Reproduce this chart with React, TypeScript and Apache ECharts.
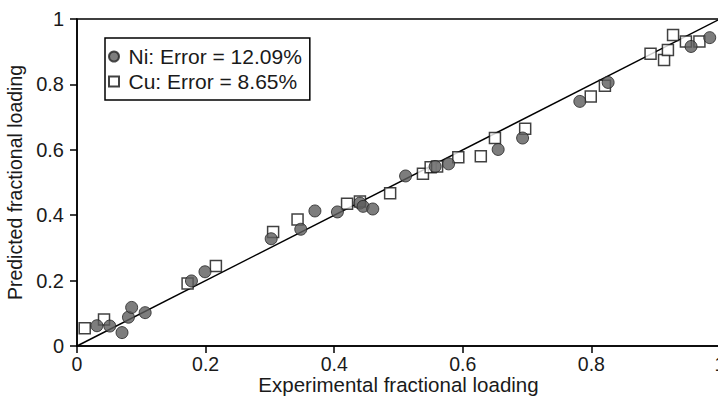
import React, { useEffect, useRef } from "react";
import * as echarts from "echarts";

const niX = [0.031, 0.051, 0.070, 0.080, 0.085, 0.106, 0.178, 0.199, 0.302, 0.348, 0.370, 0.405, 0.440, 0.445, 0.460, 0.511, 0.557, 0.578, 0.655, 0.693, 0.782, 0.826, 0.955, 0.984];
const niY = [0.062, 0.061, 0.041, 0.088, 0.118, 0.102, 0.199, 0.227, 0.328, 0.357, 0.413, 0.410, 0.437, 0.427, 0.419, 0.520, 0.549, 0.557, 0.601, 0.636, 0.748, 0.806, 0.916, 0.943];
const cuX = [0.012, 0.042, 0.172, 0.216, 0.305, 0.343, 0.420, 0.440, 0.487, 0.538, 0.550, 0.560, 0.593, 0.628, 0.650, 0.697, 0.799, 0.821, 0.892, 0.913, 0.919, 0.927, 0.947, 0.968];
const cuY = [0.054, 0.081, 0.191, 0.245, 0.349, 0.387, 0.435, 0.442, 0.467, 0.527, 0.547, 0.549, 0.577, 0.580, 0.636, 0.664, 0.763, 0.796, 0.894, 0.875, 0.905, 0.951, 0.931, 0.931];
const parityLine = [[0, 0], [1, 1]];
const niName = "Ni: Error = 12.09%";
const cuName = "Cu: Error = 8.65%";
const xTitle = "Experimental fractional loading";
const yTitle = "Predicted fractional loading";

const font = "Arial, 'Liberation Sans', Helvetica, sans-serif";

export default function App() {
  const ref = useRef<HTMLDivElement>(null);
  useEffect(() => {
    if (!ref.current) return;
    const chart = echarts.init(ref.current, null, { renderer: "svg" });
    const axisCommon = {
      type: "value",
      min: 0,
      max: 1,
      interval: 0.2,
      axisLine: { show: true, lineStyle: { color: "#000", width: 1.5 } },
      axisTick: { show: true, inside: false, length: 7, lineStyle: { color: "#000", width: 1.5 } },
      axisLabel: { fontSize: 20, color: "#1a1a1a", fontFamily: font },
      splitLine: { show: false },
      nameLocation: "middle",
      nameMoveOverlap: false,
    };
    chart.setOption({
      animation: false,
      backgroundColor: "#fff",
      grid: {
        left: 77,
        right: -2,
        top: 19,
        bottom: 50,
        outerBoundsMode: "none",
        containLabel: false,
        show: true,
        borderColor: "#000",
        borderWidth: 1.5,
      },
      xAxis: {
        ...axisCommon,
        name: xTitle,
        nameGap: 28,
        nameTextStyle: { fontSize: 20.5, color: "#1a1a1a", fontFamily: font },
        axisLabel: { ...axisCommon.axisLabel, fontSize: 19.5, margin: 8 },
      },
      yAxis: {
        ...axisCommon,
        name: yTitle,
        nameGap: 52,
        nameRotate: 90,
        nameTextStyle: { fontSize: 19.5, color: "#1a1a1a", fontFamily: font },
        axisLabel: { ...axisCommon.axisLabel, margin: 13 },
      },
      legend: {
        data: [
          { name: niName, icon: "circle" },
          { name: cuName, icon: "path://M0,0H10V10H0Z" },
        ],
        orient: "vertical",
        left: 105,
        top: 38,
        padding: [8, 8, 8, 3],
        itemGap: 4,
        itemWidth: 19,
        itemHeight: 10,
        symbolKeepAspect: true,
        borderColor: "#000",
        borderWidth: 1.5,
        backgroundColor: "#fff",
        textStyle: { fontSize: 21, color: "#1a1a1a", fontFamily: font },
      },
      series: [
        {
          type: "line",
          data: parityLine,
          symbol: "none",
          lineStyle: { color: "#000", width: 1.5 },
          z: 1,
          silent: true,
        },
        {
          name: cuName,
          type: "scatter",
          symbol: "rect",
          symbolSize: 11,
          data: cuX.map((x, i) => [x, cuY[i]]),
          itemStyle: { color: "#fff", borderColor: "#111", borderWidth: 1.5 },
          z: 2,
        },
        {
          name: niName,
          type: "scatter",
          symbol: "circle",
          symbolSize: 12,
          data: niX.map((x, i) => [x, niY[i]]),
          itemStyle: { color: "#5c5c5c", borderColor: "#222", borderWidth: 1 },
          z: 3,
        },
      ],
    });
    return () => chart.dispose();
  }, []);
  return <div ref={ref} style={{ position: "absolute", left: 0, top: 0, width: 718, height: 396 }} />;
}
